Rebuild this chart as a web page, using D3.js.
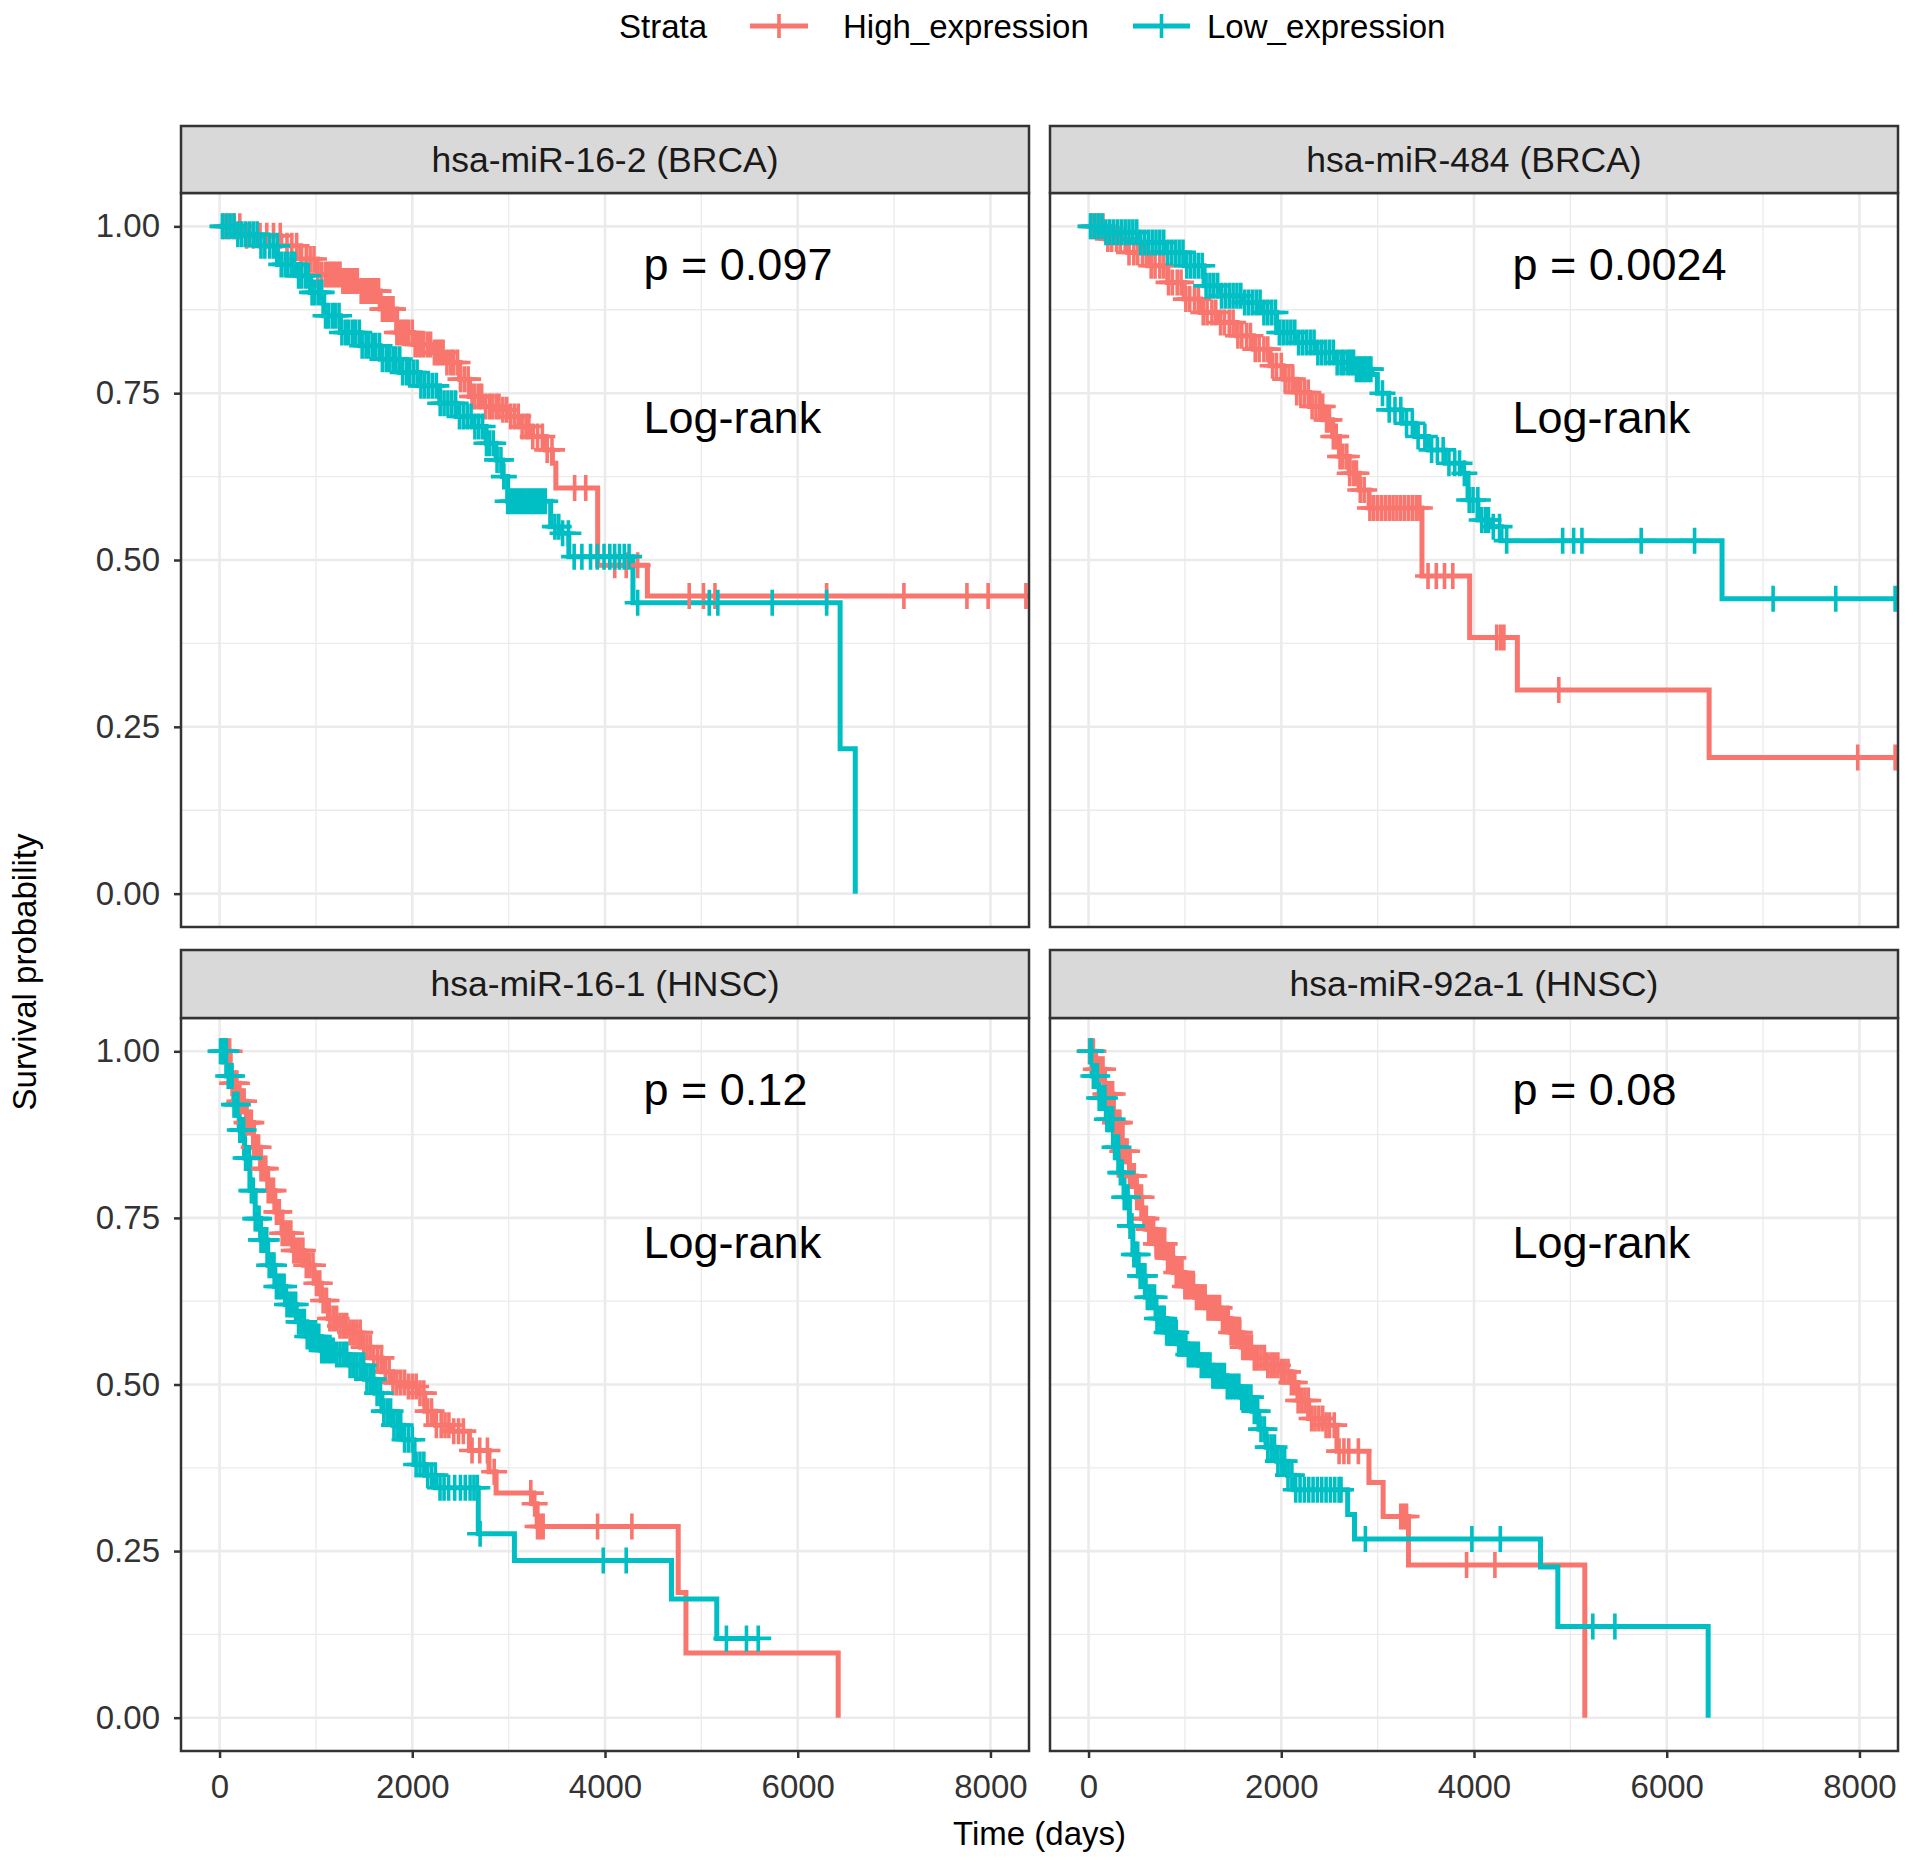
<!DOCTYPE html>
<html>
<head>
<meta charset="UTF-8">
<style>
  body { margin: 0; background: #fff; }
  svg { display: block; font-family: "Liberation Sans", Arial, sans-serif; }
</style>
</head>
<body>
<svg></svg>
<script src="https://d3js.org/d3.v7.min.js"></script>
<script>

// ---- data (time in days, survival probability) ----
const strata = ["High_expression", "Low_expression"];
const panelTitles = ["hsa-miR-16-2 (BRCA)", "hsa-miR-484 (BRCA)", "hsa-miR-16-1 (HNSC)", "hsa-miR-92a-1 (HNSC)"];
const pLabels = ["p = 0.097", "p = 0.0024", "p = 0.12", "p = 0.08"];
const xTicks = [0, 2000, 4000, 6000, 8000];
const yTicks = [0, 0.25, 0.5, 0.75, 1];

// panel 1: hsa-miR-16-2 (BRCA)
const p1HighT = [0, 258, 636, 842, 1014, 1254, 1460, 1667, 1838, 2010, 2216, 2354, 2491, 2595, 2732, 2904, 3007, 3110, 3247, 3385, 3454, 3490, 3924, 4440];
const p1HighS = [1, .986, .971, .951, .928, .918, .903, .876, .841, .823, .811, .796, .771, .745, .730, .725, .715, .700, .685, .665, .645, .608, .492, .446];
const p1HighCens = [40, 90, 150, 210, 280, 350, 420, 490, 560, 630, 700, 750, 800, 850, 900, 940, 980, 1020, 1060, 1100, 1130, 1160, 1190, 1220, 1250, 1280, 1310, 1340, 1370, 1400, 1430, 1470, 1500, 1530, 1560, 1590, 1620, 1650, 1690, 1720, 1750, 1780, 1800, 1840, 1870, 1900, 1930, 1960, 2000, 2030, 2060, 2090, 2120, 2160, 2190, 2230, 2260, 2290, 2320, 2360, 2400, 2430, 2470, 2500, 2540, 2580, 2620, 2650, 2690, 2720, 2760, 2800, 2830, 2870, 2900, 2940, 2980, 3020, 3060, 3100, 3140, 3180, 3210, 3250, 3300, 3350, 3400, 3450, 3685, 3800, 4101, 4220, 4339, 4874, 5022, 5141, 6300, 7102, 7756, 7976, 8368];
const p1LowT = [0, 155, 395, 601, 808, 945, 1082, 1254, 1460, 1667, 1873, 2079, 2285, 2457, 2629, 2766, 2869, 2938, 2990, 3436, 3522, 3625, 4290, 6440, 6597];
const p1LowS = [1, .988, .971, .943, .926, .901, .866, .841, .821, .801, .781, .761, .735, .715, .700, .675, .650, .625, .588, .550, .540, .505, .436, .217, 0];
const p1LowCens = [30, 70, 110, 150, 190, 230, 270, 310, 350, 390, 430, 470, 520, 560, 600, 640, 680, 710, 750, 780, 820, 850, 890, 920, 960, 990, 1030, 1060, 1100, 1130, 1170, 1200, 1240, 1270, 1310, 1340, 1380, 1410, 1450, 1480, 1520, 1550, 1590, 1620, 1660, 1690, 1730, 1760, 1800, 1830, 1870, 1900, 1940, 1970, 2010, 2050, 2090, 2130, 2170, 2210, 2250, 2290, 2330, 2370, 2410, 2450, 2490, 2530, 2570, 2610, 2650, 2690, 2730, 2770, 2800, 2840, 2880, 2920, 2950, 2990, 3020, 3050, 3080, 3110, 3140, 3170, 3200, 3230, 3260, 3290, 3320, 3350, 3380, 3480, 3520, 3560, 3620, 3680, 3760, 3850, 3920, 3990, 4050, 4100, 4150, 4200, 4250, 4339, 5082, 5171, 5735, 6300];

// panel 2: hsa-miR-484 (BRCA)
const p2HighT = [0, 171, 411, 616, 822, 993, 1164, 1336, 1541, 1712, 1884, 2021, 2158, 2295, 2432, 2534, 2603, 2705, 2808, 2911, 3460, 3955, 4450, 6440];
const p2HighS = [1, .981, .961, .941, .916, .891, .871, .856, .836, .816, .791, .771, .751, .730, .710, .685, .655, .630, .605, .578, .476, .384, .305, .204];
const p2HighCens = [30, 70, 110, 150, 200, 240, 290, 330, 380, 420, 470, 510, 560, 600, 650, 690, 740, 780, 830, 870, 920, 960, 1010, 1050, 1100, 1140, 1190, 1230, 1280, 1320, 1370, 1410, 1460, 1500, 1550, 1590, 1640, 1680, 1730, 1770, 1820, 1860, 1910, 1950, 2000, 2040, 2080, 2120, 2160, 2200, 2240, 2280, 2320, 2360, 2400, 2430, 2470, 2500, 2540, 2570, 2610, 2640, 2680, 2710, 2750, 2780, 2820, 2860, 2920, 2960, 3000, 3040, 3080, 3120, 3160, 3200, 3240, 3280, 3320, 3360, 3400, 3438, 3523, 3609, 3694, 3780, 4236, 4276, 4310, 4880, 7982, 8370];
const p2LowT = [0, 171, 514, 788, 993, 1199, 1370, 1610, 1781, 1952, 2158, 2363, 2568, 2774, 2945, 2997, 3116, 3253, 3390, 3527, 3699, 3887, 3938, 4041, 4178, 4281, 6574];
const p2LowS = [1, .991, .976, .961, .941, .911, .896, .886, .871, .841, .826, .811, .796, .786, .778, .750, .725, .705, .685, .665, .645, .630, .590, .560, .550, .529, .442];
const p2LowCens = [20, 60, 100, 140, 180, 220, 260, 300, 340, 380, 420, 460, 500, 540, 580, 620, 660, 700, 740, 780, 820, 860, 900, 940, 980, 1020, 1060, 1100, 1140, 1180, 1220, 1260, 1300, 1340, 1380, 1420, 1460, 1500, 1540, 1580, 1620, 1660, 1700, 1740, 1780, 1820, 1860, 1900, 1940, 1980, 2020, 2060, 2100, 2140, 2180, 2220, 2260, 2300, 2340, 2380, 2420, 2460, 2500, 2540, 2580, 2620, 2650, 2690, 2720, 2750, 2780, 2810, 2830, 2860, 2880, 2910, 2930, 3050, 3120, 3180, 3240, 3300, 3360, 3420, 3490, 3560, 3620, 3680, 3740, 3800, 3850, 3900, 3950, 3990, 4040, 4080, 4120, 4150, 4200, 4265, 4339, 4920, 5034, 5120, 5735, 6289, 7104, 7754, 8370];

// panel 3: hsa-miR-16-1 (HNSC)
const p3HighT = [0, 111, 204, 278, 352, 426, 500, 574, 648, 759, 870, 981, 1056, 1130, 1241, 1352, 1463, 1574, 1685, 1796, 1944, 2056, 2130, 2241, 2389, 2593, 2796, 2870, 3259, 3296, 4760, 4840, 6420];
const p3HighS = [1, .952, .925, .893, .856, .824, .791, .759, .727, .701, .679, .652, .626, .599, .588, .578, .556, .540, .519, .503, .497, .487, .460, .439, .430, .401, .369, .337, .321, .287, .188, .097, 0];
const p3HighCens = [20, 40, 60, 80, 105, 130, 155, 180, 205, 230, 255, 280, 305, 330, 355, 380, 405, 430, 455, 480, 505, 530, 560, 590, 620, 650, 680, 710, 740, 770, 800, 830, 865, 900, 935, 970, 1005, 1040, 1075, 1110, 1145, 1180, 1215, 1250, 1285, 1320, 1355, 1390, 1425, 1460, 1495, 1530, 1565, 1600, 1640, 1680, 1720, 1760, 1800, 1840, 1880, 1920, 1960, 2000, 2040, 2080, 2120, 2160, 2200, 2250, 2300, 2340, 2380, 2430, 2480, 2530, 2620, 2700, 2780, 2850, 3230, 3270, 3300, 3330, 3358, 3923, 4279];
const p3LowT = [0, 74, 148, 204, 259, 315, 370, 426, 500, 574, 685, 796, 907, 1056, 1204, 1352, 1500, 1611, 1685, 1796, 1907, 2019, 2130, 2241, 2685, 3060, 4690, 5160];
const p3LowS = [1, .963, .920, .882, .840, .791, .749, .717, .679, .647, .620, .594, .572, .551, .545, .529, .508, .487, .460, .439, .417, .380, .364, .345, .276, .236, .178, .119];
const p3LowCens = [10, 30, 50, 70, 90, 110, 130, 150, 170, 190, 210, 230, 250, 270, 290, 310, 330, 350, 370, 390, 410, 430, 450, 470, 490, 515, 540, 565, 590, 615, 640, 670, 700, 730, 760, 790, 820, 850, 880, 910, 940, 970, 1000, 1030, 1060, 1090, 1120, 1150, 1180, 1215, 1250, 1285, 1320, 1355, 1390, 1425, 1460, 1495, 1530, 1565, 1600, 1635, 1670, 1705, 1740, 1775, 1810, 1845, 1880, 1920, 1960, 2000, 2040, 2080, 2120, 2160, 2200, 2240, 2288, 2330, 2377, 2440, 2500, 2550, 2600, 2640, 2675, 2704, 3982, 4220, 5260, 5468, 5590];

// panel 4: hsa-miR-92a-1 (HNSC)
const p4HighT = [0, 74, 166, 258, 350, 424, 497, 552, 608, 700, 792, 884, 994, 1105, 1215, 1363, 1473, 1584, 1694, 1842, 1989, 2099, 2173, 2284, 2431, 2578, 2910, 3057, 3320, 5150];
const p4HighS = [1, .973, .936, .893, .850, .813, .781, .749, .733, .711, .690, .668, .647, .631, .615, .599, .578, .556, .540, .529, .519, .503, .476, .449, .439, .400, .353, .302, .229, 0];
const p4HighCens = [10, 30, 50, 75, 100, 125, 150, 175, 200, 225, 250, 275, 300, 325, 350, 375, 400, 425, 450, 475, 500, 525, 550, 575, 600, 625, 650, 675, 700, 730, 760, 790, 820, 850, 880, 910, 940, 970, 1000, 1030, 1060, 1090, 1120, 1150, 1180, 1210, 1240, 1270, 1300, 1330, 1360, 1390, 1420, 1450, 1480, 1510, 1540, 1570, 1600, 1630, 1660, 1690, 1720, 1755, 1790, 1825, 1860, 1895, 1930, 1965, 2000, 2035, 2070, 2105, 2140, 2175, 2210, 2245, 2280, 2315, 2350, 2390, 2430, 2465, 2500, 2550, 2600, 2650, 2700, 2800, 3240, 3270, 3300, 3923, 4217];
const p4LowT = [0, 37, 110, 184, 258, 313, 368, 424, 460, 516, 589, 700, 810, 921, 1031, 1142, 1289, 1436, 1584, 1694, 1768, 1842, 1952, 2063, 2136, 2689, 2760, 4690, 4870, 6430];
const p4LowS = [1, .963, .930, .898, .856, .818, .781, .738, .695, .663, .631, .599, .578, .561, .545, .529, .513, .497, .481, .460, .433, .406, .385, .364, .342, .305, .268, .226, .137, 0];
const p4LowCens = [15, 30, 50, 70, 90, 110, 130, 150, 170, 190, 210, 230, 250, 270, 290, 310, 330, 350, 370, 390, 410, 430, 450, 470, 490, 510, 535, 560, 585, 610, 635, 660, 685, 710, 735, 760, 785, 810, 835, 860, 885, 910, 935, 960, 985, 1010, 1035, 1060, 1085, 1110, 1140, 1170, 1200, 1230, 1260, 1290, 1320, 1350, 1380, 1410, 1440, 1470, 1500, 1530, 1560, 1590, 1620, 1650, 1685, 1720, 1755, 1790, 1825, 1860, 1895, 1930, 1965, 2000, 2035, 2070, 2110, 2150, 2195, 2240, 2285, 2330, 2375, 2420, 2465, 2510, 2555, 2600, 2620, 2873, 3978, 4273, 5233, 5462];

const curveEnds = [[8400, 6597], [8400, 8400], [6420, 5590], [5150, 6430]];

// ---- build ----
const W = 1913, H = 1864;
const colors = ["#F8766D", "#00BFC4"];
const svg = d3.select("svg").attr("width", W).attr("height", H);
svg.append("rect").attr("width", W).attr("height", H).attr("fill", "#fff");

const cols = [[181, 1029], [1050, 1898]];
const rows = [{strip: 126, top: 193, bottom: 927}, {strip: 950, top: 1018, bottom: 1751}];

const series = [
  [[p1HighT, p1HighS, p1HighCens], [p1LowT, p1LowS, p1LowCens]],
  [[p2HighT, p2HighS, p2HighCens], [p2LowT, p2LowS, p2LowCens]],
  [[p3HighT, p3HighS, p3HighCens], [p3LowT, p3LowS, p3LowCens]],
  [[p4HighT, p4HighS, p4HighCens], [p4LowT, p4LowS, p4LowCens]]
];

function survAt(T, S, t) {
  let v = S[0];
  for (let i = 0; i < T.length; i++) if (T[i] <= t) v = S[i];
  return v;
}

function plus(x, y, r) {
  return "M" + (x - r) + "," + y + "h" + (2 * r) + "M" + x + "," + (y - r) + "v" + (2 * r);
}

const defs = svg.append("defs");

panelTitles.forEach((title, k) => {
  const c = k % 2, r = Math.floor(k / 2);
  const [x0, x1] = cols[c];
  const row = rows[r];
  const x = d3.scaleLinear().domain([-400, 8400]).range([x0, x1]);
  const y = d3.scaleLinear().domain([-0.05, 1.05]).range([row.bottom, row.top]);
  const g = svg.append("g");

  // grid
  const grid = g.append("g");
  [1000, 3000, 5000, 7000].forEach(v => grid.append("line")
    .attr("x1", x(v)).attr("x2", x(v)).attr("y1", row.top).attr("y2", row.bottom)
    .attr("stroke", "#EBEBEB").attr("stroke-width", 1.3));
  [0.125, 0.375, 0.625, 0.875].forEach(v => grid.append("line")
    .attr("x1", x0).attr("x2", x1).attr("y1", y(v)).attr("y2", y(v))
    .attr("stroke", "#EBEBEB").attr("stroke-width", 1.3));
  xTicks.forEach(v => grid.append("line")
    .attr("x1", x(v)).attr("x2", x(v)).attr("y1", row.top).attr("y2", row.bottom)
    .attr("stroke", "#EBEBEB").attr("stroke-width", 2.6));
  yTicks.forEach(v => grid.append("line")
    .attr("x1", x0).attr("x2", x1).attr("y1", y(v)).attr("y2", y(v))
    .attr("stroke", "#EBEBEB").attr("stroke-width", 2.6));

  // curves
  defs.append("clipPath").attr("id", "clip" + k).append("rect")
    .attr("x", x0).attr("y", row.top).attr("width", x1 - x0).attr("height", row.bottom - row.top);
  const plot = g.append("g").attr("clip-path", "url(#clip" + k + ")");
  const line = d3.line().x(d => x(d[0])).y(d => y(d[1])).curve(d3.curveStepAfter);

  series[k].forEach(([T, S], gi) => {
    const pts = T.map((t, i) => [t, S[i]]);
    pts.push([curveEnds[k][gi], S[S.length - 1]]);
    plot.append("path").datum(pts).attr("d", line)
      .attr("fill", "none").attr("stroke", colors[gi]).attr("stroke-width", 5);
  });
  series[k].forEach(([T, S, C], gi) => {
    plot.append("g").selectAll("path").data(C).join("path")
      .attr("d", t => plus(x(t), y(survAt(T, S, t)), 13))
      .attr("stroke", colors[gi]).attr("stroke-width", 3.6).attr("fill", "none");
  });

  // annotations
  g.append("text").attr("x", x(4400)).attr("y", y(0.92))
    .attr("font-size", 45).attr("fill", "#000").text(pLabels[k]);
  g.append("text").attr("x", x(4400)).attr("y", y(0.69))
    .attr("font-size", 45).attr("fill", "#000").text("Log-rank");

  // panel border
  g.append("rect").attr("x", x0).attr("y", row.top).attr("width", x1 - x0).attr("height", row.bottom - row.top)
    .attr("fill", "none").attr("stroke", "#333").attr("stroke-width", 2.5);

  // strip
  g.append("rect").attr("x", x0).attr("y", row.strip).attr("width", x1 - x0).attr("height", row.top - row.strip)
    .attr("fill", "#D9D9D9").attr("stroke", "#333").attr("stroke-width", 2.5);
  g.append("text").attr("x", (x0 + x1) / 2).attr("y", (row.strip + row.top) / 2 + 12)
    .attr("text-anchor", "middle").attr("font-size", 35.5).attr("fill", "#1A1A1A").text(title);

  // axes
  if (c === 0) {
    const ya = g.append("g").attr("transform", "translate(" + x0 + ",0)")
      .call(d3.axisLeft(y).tickValues(yTicks).tickFormat(d3.format(".2f")).tickSize(7).tickPadding(14));
    ya.select(".domain").remove();
    ya.selectAll("line").attr("stroke", "#333").attr("stroke-width", 2.5);
    ya.selectAll("text").attr("font-size", 33).attr("fill", "#333")
      .attr("font-family", "Liberation Sans, Arial, sans-serif");
  }
  if (r === 1) {
    const xa = g.append("g").attr("transform", "translate(0," + row.bottom + ")")
      .call(d3.axisBottom(x).tickValues(xTicks).tickFormat(d3.format("d")).tickSize(7).tickPadding(17));
    xa.select(".domain").remove();
    xa.selectAll("line").attr("stroke", "#333").attr("stroke-width", 2.5);
    xa.selectAll("text").attr("font-size", 33).attr("fill", "#333")
      .attr("font-family", "Liberation Sans, Arial, sans-serif");
  }
});

// axis titles
svg.append("text").attr("x", (cols[0][0] + cols[1][1]) / 2).attr("y", 1845)
  .attr("text-anchor", "middle").attr("font-size", 33).attr("fill", "#000").text("Time (days)");
svg.append("text").attr("transform", "translate(36," + (rows[0].top + rows[1].bottom) / 2 + ") rotate(-90)")
  .attr("text-anchor", "middle").attr("font-size", 33).attr("fill", "#000").text("Survival probability");

// legend
const leg = svg.append("g");
leg.append("text").attr("x", 619).attr("y", 38).attr("font-size", 33).attr("fill", "#000").text("Strata");
const legX = [[750, 808, 843], [1133, 1190, 1207]];
strata.forEach((s, i) => {
  const [a, b, tx] = legX[i];
  leg.append("line").attr("x1", a).attr("x2", b).attr("y1", 26).attr("y2", 26)
    .attr("stroke", colors[i]).attr("stroke-width", 5);
  leg.append("path").attr("d", plus((a + b) / 2, 26, 12))
    .attr("stroke", colors[i]).attr("stroke-width", 3.6);
  leg.append("text").attr("x", tx).attr("y", 38).attr("font-size", 33).attr("fill", "#000").text(s);
});

</script>
</body>
</html>
